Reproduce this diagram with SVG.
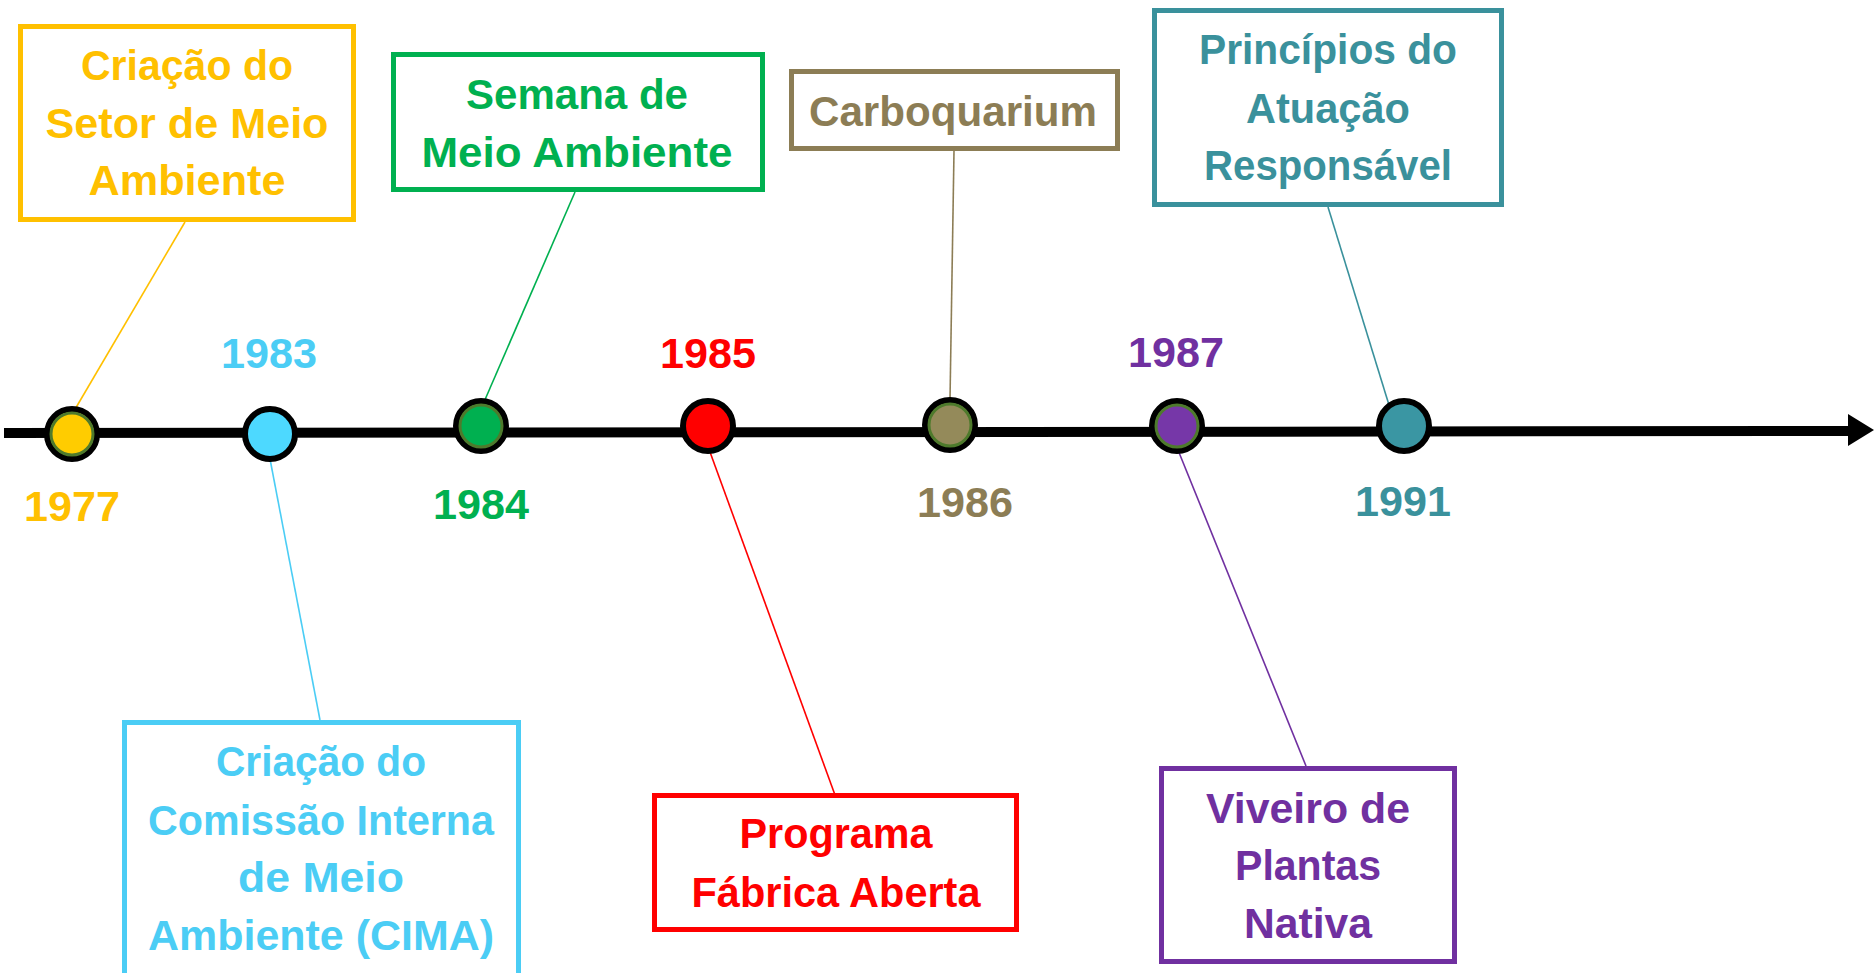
<svg xmlns="http://www.w3.org/2000/svg" width="1874" height="973" viewBox="0 0 1874 973">
<style>
text{font-family:"Liberation Sans",Arial,sans-serif;font-weight:bold;font-size:42px;text-anchor:middle}
.box{fill:#fff;stroke-width:5}
.con{stroke-width:1.6;fill:none}
.dot{stroke:#000;stroke-width:6}
.ring{fill:none;stroke:#4E7A2C;stroke-width:3}
.yel{fill:#FFC000}.cya{fill:#4BCDF5}.grn{fill:#00B050}.red{fill:#FF0000}.brn{fill:#8C7D55}.pur{fill:#7030A0}.tea{fill:#3A919C}
</style>
<rect width="1874" height="973" fill="#fff"/>
<g id="timeline">
<line x1="4" y1="433" x2="1852" y2="431" stroke="#000" stroke-width="10"/>
<polygon points="1848,414 1874,430 1848,446" fill="#000"/>
</g>
<g id="connectors">
<line class="con" x1="185" y1="222" x2="74" y2="411" stroke="#FFC000"/>
<line class="con" x1="575" y1="192" x2="484" y2="402" stroke="#00B050"/>
<line class="con" x1="954" y1="151" x2="950" y2="400" stroke="#8C7D55"/>
<line class="con" x1="1328" y1="207" x2="1389" y2="405" stroke="#3A919C"/>
<line class="con" x1="270" y1="459" x2="320" y2="720" stroke="#4BCDF5"/>
<line class="con" x1="710" y1="452" x2="835" y2="795" stroke="#FF0000"/>
<line class="con" x1="1178" y1="450" x2="1306" y2="766" stroke="#7030A0"/>
</g>
<g id="y1977">
<circle class="dot" cx="72" cy="434" r="25" fill="#FFCC00"/>
<circle class="ring" cx="72" cy="434" r="21"/>
<text class="yel" x="72" y="521" textLength="96" lengthAdjust="spacingAndGlyphs">1977</text>
</g>
<g id="y1983">
<circle class="dot" cx="270" cy="434" r="25" fill="#4DD9FF"/>
<text class="cya" x="269" y="368" textLength="96" lengthAdjust="spacingAndGlyphs">1983</text>
</g>
<g id="y1984">
<circle class="dot" cx="481" cy="426" r="25" fill="#00B050"/>
<circle class="ring" cx="481" cy="426" r="21"/>
<text class="grn" x="481" y="519" textLength="96" lengthAdjust="spacingAndGlyphs">1984</text>
</g>
<g id="y1985">
<circle class="dot" cx="708" cy="426" r="25" fill="#FF0000"/>
<text class="red" x="708" y="368" textLength="96" lengthAdjust="spacingAndGlyphs">1985</text>
</g>
<g id="y1986">
<circle class="dot" cx="950" cy="425" r="25" fill="#948A5A"/>
<circle class="ring" cx="950" cy="425" r="21"/>
<text class="brn" x="965" y="517" textLength="96" lengthAdjust="spacingAndGlyphs">1986</text>
</g>
<g id="y1987">
<circle class="dot" cx="1177" cy="426" r="25" fill="#7637A8"/>
<circle class="ring" cx="1177" cy="426" r="21"/>
<text class="pur" x="1176" y="367" textLength="96" lengthAdjust="spacingAndGlyphs">1987</text>
</g>
<g id="y1991">
<circle class="dot" cx="1404" cy="426" r="25" fill="#3A96A3"/>
<text class="tea" x="1403" y="516" textLength="96" lengthAdjust="spacingAndGlyphs">1991</text>
</g>
<g id="box-setor">
<rect class="box" x="20.5" y="26.5" width="333" height="193" stroke="#FFC000"/>
<text class="yel" x="187" y="80" textLength="212" lengthAdjust="spacingAndGlyphs">Criação do</text>
<text class="yel" x="187" y="138" textLength="283" lengthAdjust="spacingAndGlyphs">Setor de Meio</text>
<text class="yel" x="187" y="195" textLength="197" lengthAdjust="spacingAndGlyphs">Ambiente</text>
</g>
<g id="box-semana">
<rect class="box" x="393.5" y="54.5" width="369" height="135" stroke="#00B050"/>
<text class="grn" x="577" y="109" textLength="222" lengthAdjust="spacingAndGlyphs">Semana de</text>
<text class="grn" x="577" y="167" textLength="311" lengthAdjust="spacingAndGlyphs">Meio Ambiente</text>
</g>
<g id="box-carboquarium">
<rect class="box" x="791.5" y="71.5" width="326" height="77" stroke="#8C7D55"/>
<text class="brn" x="953" y="126" textLength="288" lengthAdjust="spacingAndGlyphs">Carboquarium</text>
</g>
<g id="box-principios">
<rect class="box" x="1154.5" y="10.5" width="347" height="194" stroke="#3A919C"/>
<text class="tea" x="1328" y="64" textLength="258" lengthAdjust="spacingAndGlyphs">Princípios do</text>
<text class="tea" x="1328" y="123" textLength="164" lengthAdjust="spacingAndGlyphs">Atuação</text>
<text class="tea" x="1328" y="180" textLength="248" lengthAdjust="spacingAndGlyphs">Responsável</text>
</g>
<g id="box-cima">
<rect class="box" x="124.5" y="722.5" width="394" height="300" stroke="#4BCDF5"/>
<text class="cya" x="321" y="776" textLength="210" lengthAdjust="spacingAndGlyphs">Criação do</text>
<text class="cya" x="321" y="835" textLength="346" lengthAdjust="spacingAndGlyphs">Comissão Interna</text>
<text class="cya" x="321" y="892" textLength="166" lengthAdjust="spacingAndGlyphs">de Meio</text>
<text class="cya" x="321" y="950" textLength="346" lengthAdjust="spacingAndGlyphs">Ambiente (CIMA)</text>
</g>
<g id="box-fabrica">
<rect class="box" x="654.5" y="795.5" width="362" height="134" stroke="#FF0000"/>
<text class="red" x="836" y="848" textLength="193" lengthAdjust="spacingAndGlyphs">Programa</text>
<text class="red" x="836" y="907" textLength="289" lengthAdjust="spacingAndGlyphs">Fábrica Aberta</text>
</g>
<g id="box-viveiro">
<rect class="box" x="1161.5" y="768.5" width="293" height="193" stroke="#7030A0"/>
<text class="pur" x="1308" y="823" textLength="204" lengthAdjust="spacingAndGlyphs">Viveiro de</text>
<text class="pur" x="1308" y="880" textLength="146" lengthAdjust="spacingAndGlyphs">Plantas</text>
<text class="pur" x="1308" y="938" textLength="128" lengthAdjust="spacingAndGlyphs">Nativa</text>
</g>
</svg>
